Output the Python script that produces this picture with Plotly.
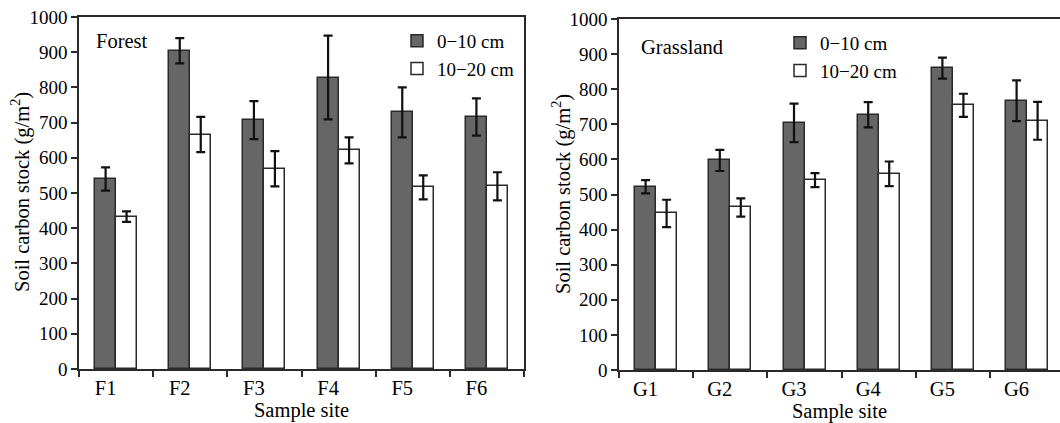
import plotly.graph_objects as go

# ---------------- data ----------------
forest_sites = ["F1", "F2", "F3", "F4", "F5", "F6"]
forest_0_10 = [540, 904, 707, 828, 729, 716]
forest_0_10_err = [33, 36, 54, 119, 71, 53]
forest_10_20 = [433, 666, 569, 621, 516, 519]
forest_10_20_err = [15, 50, 50, 37, 34, 40]

grass_sites = ["G1", "G2", "G3", "G4", "G5", "G6"]
grass_0_10 = [522, 597, 704, 727, 860, 767]
grass_0_10_err = [19, 30, 55, 36, 30, 58]
grass_10_20 = [446, 463, 541, 559, 754, 710]
grass_10_20_err = [39, 26, 20, 35, 33, 54]

y_ticks = [0, 100, 200, 300, 400, 500, 600, 700, 800, 900, 1000]
series_names = ["0\u221210 cm", "10\u221220 cm"]
panel_labels = ["Forest", "Grassland"]
y_title = "Soil carbon stock (g/m<sup>2</sup>)"
x_title = "Sample site"

# ---------------- style ----------------
W, H = 1060, 423
FONT = "Liberation Serif, Times New Roman, serif"
FS = 20.5
FS_TICK = 19
FS_LEG = 19
DARK = "#666666"
EDGE = "#2a2a2a"
BW = 0.283  # bar width in category units


def px_x(p):
    return p / W


def px_y(p):
    return 1 - p / H


fig = go.Figure()


def add_panel(sites, v1, e1, v2, e2, xa, ya, legend, showlegend=True):
    centers = [i + 0.5 for i in range(len(sites))]
    fig.add_trace(go.Bar(
        x=centers, y=v1, width=BW, offset=-BW,
        marker=dict(color=DARK, line=dict(color=EDGE, width=1.5)),
        error_y=dict(type="data", array=e1, color="#111111", thickness=2.2, width=4.5),
        name=series_names[0], xaxis=xa, yaxis=ya, legend=legend,
        showlegend=showlegend,
    ))
    fig.add_trace(go.Bar(
        x=centers, y=v2, width=BW, offset=0,
        marker=dict(color="white", line=dict(color=EDGE, width=1.5)),
        error_y=dict(type="data", array=e2, color="#111111", thickness=2.2, width=4.5),
        name=series_names[1], xaxis=xa, yaxis=ya, legend=legend,
        showlegend=showlegend,
    ))


add_panel(forest_sites, forest_0_10, forest_0_10_err, forest_10_20, forest_10_20_err,
          "x", "y", "legend")
add_panel(grass_sites, grass_0_10, grass_0_10_err, grass_10_20, grass_10_20_err,
          "x2", "y2", "legend2")

cat_px = 74.2
label_pos = [i + 0.5 - BW / 2 for i in range(6)]

common_x = dict(
    automargin=False,
    showline=True, linecolor=EDGE, linewidth=1.6,
    ticks="", ticklen=0, tickmode="array", tickvals=label_pos,
    tickfont=dict(family=FONT, size=FS, color="black"),
    showgrid=False, zeroline=False,
    minor=dict(ticks="outside", tick0=0, dtick=1, ticklen=6, tickwidth=1.6,
               tickcolor=EDGE, showgrid=False),
    title=dict(text=x_title, font=dict(family=FONT, size=FS, color="black"), standoff=3),
)
common_y = dict(
    automargin=False,
    range=[0, 1000], tickmode="array", tickvals=y_ticks,
    ticks="outside", ticklen=6, tickwidth=1.6, tickcolor=EDGE,
    showline=True, linecolor=EDGE, linewidth=1.6,
    tickfont=dict(family=FONT, size=FS_TICK, color="black"),
    showgrid=False, zeroline=False,
)

txt = dict(family=FONT, size=FS, color="black")
legtxt = dict(family=FONT, size=FS_LEG, color="black")

fig.update_layout(
    width=W, height=H,
    margin=dict(l=0, r=0, t=0, b=0),
    paper_bgcolor="white", plot_bgcolor="white",
    font=txt,
    bargap=0,
    xaxis=dict(domain=[px_x(79), px_x(524)], range=[0, 6], anchor="y",
               mirror=True, ticktext=forest_sites, **common_x),
    yaxis=dict(domain=[px_y(369), px_y(17)], anchor="x", mirror=True, **common_y),
    xaxis2=dict(domain=[px_x(619), 1.0], range=[0, (W - 619) / cat_px], anchor="y2",
                mirror=True, ticktext=grass_sites, **common_x),
    yaxis2=dict(domain=[px_y(370), px_y(19)], anchor="x2", mirror=False, **common_y),
    legend=dict(x=px_x(397), y=px_y(22), xanchor="left", yanchor="top",
                bgcolor="rgba(0,0,0,0)", font=legtxt),
    legend2=dict(x=px_x(780), y=px_y(24), xanchor="left", yanchor="top",
                 bgcolor="rgba(0,0,0,0)", font=legtxt),
    annotations=[
        dict(text=panel_labels[0], x=px_x(94), y=px_y(41), xref="paper", yref="paper",
             xanchor="left", yanchor="middle", showarrow=False, font=txt),
        dict(text=panel_labels[1], x=px_x(639), y=px_y(47), xref="paper", yref="paper",
             xanchor="left", yanchor="middle", showarrow=False, font=txt),
        dict(text=y_title, x=px_x(20), y=px_y(192), xref="paper", yref="paper",
             xanchor="center", yanchor="middle", textangle=-90, showarrow=False, font=txt),
        dict(text=y_title, x=px_x(561), y=px_y(194), xref="paper", yref="paper",
             xanchor="center", yanchor="middle", textangle=-90, showarrow=False, font=txt),
    ],
)

fig.write_html("out.html")
